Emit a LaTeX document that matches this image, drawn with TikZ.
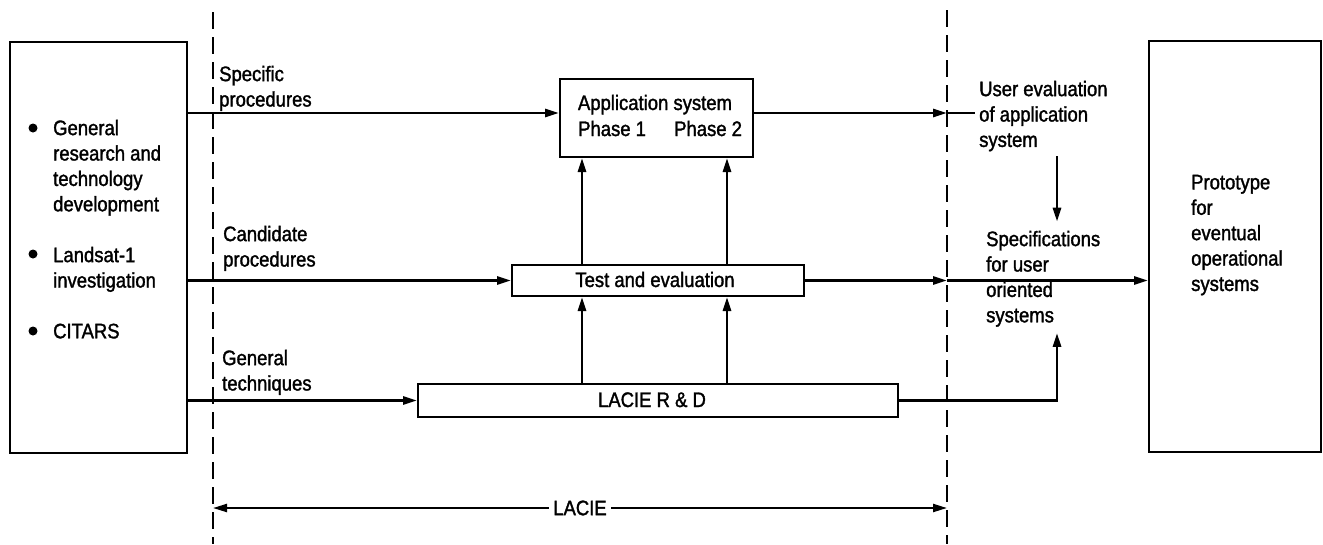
\documentclass[tikz,border=0pt]{standalone}
\usepackage{fontspec}
\setmainfont{Liberation Sans}[FakeStretch=0.88,FakeBold=1.5]
\usetikzlibrary{arrows.meta}
\begin{document}
\begin{tikzpicture}[x=1pt,y=-1pt,
  box/.style={draw, line width=2pt, inner sep=0pt, anchor=north west},
  txt/.style={inner sep=0pt, anchor=base west, align=left, font=\fontsize{21}{25.4}\selectfont},
  mtxt/.style={inner sep=0pt, anchor=north west, align=left, font=\fontsize{21}{25.4}\selectfont},
  ctxt/.style={inner sep=0pt, anchor=base, font=\fontsize{21}{25.4}\selectfont},
  flow/.style={line width=2.8pt, -{Triangle[length=14pt,width=8pt]}},
  plainline/.style={line width=2.8pt},
  bound/.style={line width=1.8pt, dash pattern=on 17pt off 8pt},
  dot/.style={circle, fill, inner sep=0pt, minimum size=9pt}]
\useasboundingbox (0,0) rectangle (1323,544);

% boxes
\node[box, minimum width=177pt, minimum height=411pt] (src) at (9,41) {};
\node[box, minimum width=172pt, minimum height=411pt] (proto) at (1148,40) {};
\node[box, minimum width=193pt, minimum height=78pt] (app) at (559,78) {};
\node[box, minimum width=292pt, minimum height=31pt] (test) at (511,264) {};
\node[box, minimum width=480pt, minimum height=33pt] (rd) at (417,383) {};

% box texts (north = first baseline - 15.3)
\node[mtxt] (srctxt) at (53,119.7) {General\\research and\\technology\\development\\[25.4pt]Landsat-1\\investigation\\[25.4pt]CITARS};
\node[dot] (b1) at (33,128) {};
\node[dot] (b2) at (33,254) {};
\node[dot] (b3) at (33,331) {};
\node[ctxt] (apptxt) at (655,110) {Application system};
\node[txt] (ph1) at (578,136) {Phase 1};
\node[txt] (ph2) at (674,136) {Phase 2};
\node[ctxt] (testtxt) at (655,287) {Test and evaluation};
\node[ctxt] (rdtxt) at (652,407) {LACIE R \& D};
\node[mtxt] (prototxt) at (1191,174.7) {Prototype\\for\\eventual\\operational\\systems};

% labels
\node[mtxt] (lspec) at (219,65.7) {Specific\\procedures};
\node[mtxt] (lcand) at (223,225.7) {Candidate\\procedures};
\node[mtxt] (lgen) at (222,349.7) {General\\techniques};
\node[mtxt] (user) at (979,80.7) {User evaluation\\of application\\system};
\node[mtxt] (specs) at (986,230.7) {Specifications\\for user\\oriented\\systems};

% LACIE boundaries
\coordinate (LT) at (213,12);
\coordinate (LB) at (213,544);
\coordinate (RT) at (947,10);
\coordinate (RB) at (947,544);
\draw[bound] (LT) -- (LB);
\draw[bound] (RT) -- (RB);

% helper coordinates
\coordinate (ySpec) at (0,113);
\coordinate (xA) at (582,0);
\coordinate (xB) at (727,0);
\coordinate (xC) at (1057,0);
\coordinate (uEnd) at (975,113);
\coordinate (yL) at (0,508);

% flows
\draw[flow] (src.east |- ySpec) -- (app.west |- ySpec);
\draw[flow] (app.east |- ySpec) -- (RT |- ySpec);
\draw[plainline] (RT |- ySpec) -- (uEnd);
\draw[flow] (src.east |- test.west) -- (test.west);
\draw[flow] (test.east) -- (RT |- test.east);
\draw[flow] (RT |- test.east) -- (proto.west |- test.east);
\draw[flow] (src.east |- rd.west) -- (rd.west);
\draw[flow] (rd.east) -| ([yshift=-6pt]specs.south -| xC);
\draw[flow] ([yshift=-5pt]user.south -| xC) -- ([yshift=9pt]specs.north -| xC);

\draw[flow] (test.north -| xA) -- (app.south -| xA);
\draw[flow] (test.north -| xB) -- (app.south -| xB);
\draw[flow] (rd.north -| xA) -- (test.south -| xA);
\draw[flow] (rd.north -| xB) -- (test.south -| xB);

% LACIE span
\draw[line width=2.2pt, {Triangle[length=14pt,width=8pt]}-{Triangle[length=14pt,width=8pt]}]
  (LB |- yL) -- (RB |- yL)
  node[pos=0.5, fill=white, inner sep=4pt, font=\fontsize{21}{25.4}\selectfont] (lacie) {LACIE};
\end{tikzpicture}
\end{document}
